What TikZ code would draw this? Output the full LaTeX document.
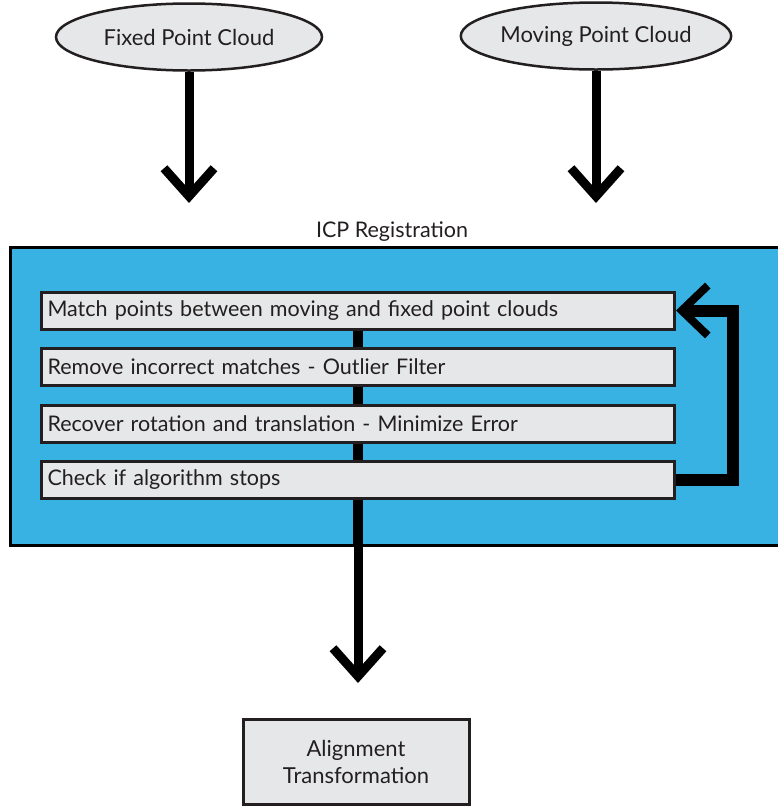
\documentclass[tikz,border=0pt]{standalone}
\usepackage{fontspec}
\setmainfont{Lato}
\usetikzlibrary{shapes.geometric, arrows.meta, positioning, calc}
\definecolor{icpblue}{HTML}{38B2E3}
\definecolor{icpgray}{HTML}{E6E7E8}
\definecolor{icpdark}{HTML}{231F20}

\tikzset{
  cloud/.style={ellipse, draw=icpdark, line width=2.5pt, fill=icpgray,
    minimum width=266pt, minimum height=67pt, inner xsep=0pt,
    font=\fontsize{22}{26}\selectfont, text=icpdark},
  stepbox/.style={rectangle, draw=icpdark, line width=3pt, fill=icpgray,
    text width=621pt, inner xsep=6pt, minimum height=37pt, align=left,
    font=\fontsize{21.5}{25}\selectfont, text=icpdark},
  resultbox/.style={rectangle, draw=icpdark, line width=3pt, fill=icpgray,
    minimum width=226pt, minimum height=85pt, align=center,
    font=\fontsize{22}{27}\selectfont, text=icpdark},
  flow/.style={line width=9pt, -{Straight Barb[length=28pt, width=50pt]}},
  link/.style={line width=10pt}
}

\begin{document}
\begin{tikzpicture}[x=1pt, y=-1pt]
  \useasboundingbox (0,0) rectangle (778,807);

  % Input clouds
  \node[cloud] (fixed) at (189,37) {Fixed Point Cloud};
  \node[cloud] (moving) at (596,36) {Moving Point Cloud};
  \coordinate (fixedin) at (189,203);
  \coordinate (movingin) at (596,203);
  \draw[flow] (fixed.south) -- (fixedin);
  \draw[flow] (moving.south) -- (movingin);

  % ICP block
  \node[font=\fontsize{21.5}{25}\selectfont, text=icpdark] (icplabel) at (392,232) {ICP Registration};
  \fill[icpblue, draw=black, line width=3pt] (10,247) rectangle (795,545);

  % Steps
  \coordinate (out) at (358,683);
  \draw[link] (358,480) -- (358,545);
  \draw[flow] (358,540) -- (out);
  \draw[link] (358,310) -- (358,480);
  \node[stepbox] (s1) at (358,310.5) {Match points between moving and fixed point clouds};
  \node[stepbox] (s2) at (358,367) {Remove incorrect matches - Outlier Filter};
  \node[stepbox] (s3) at (358,423.5) {Recover rotation and translation - Minimize Error};
  \node[stepbox] (s4) at (358,480) {Check if algorithm stops};

  % Loop back
  \draw[line width=12pt, -{Straight Barb[length=26pt, width=50pt, line width=8pt]}]
    (s4.east) -- ++(57,0) |- (s1.east);

  % Result
  \node[resultbox] (result) at (356,762) {Alignment\\Transformation};
\end{tikzpicture}
\end{document}
